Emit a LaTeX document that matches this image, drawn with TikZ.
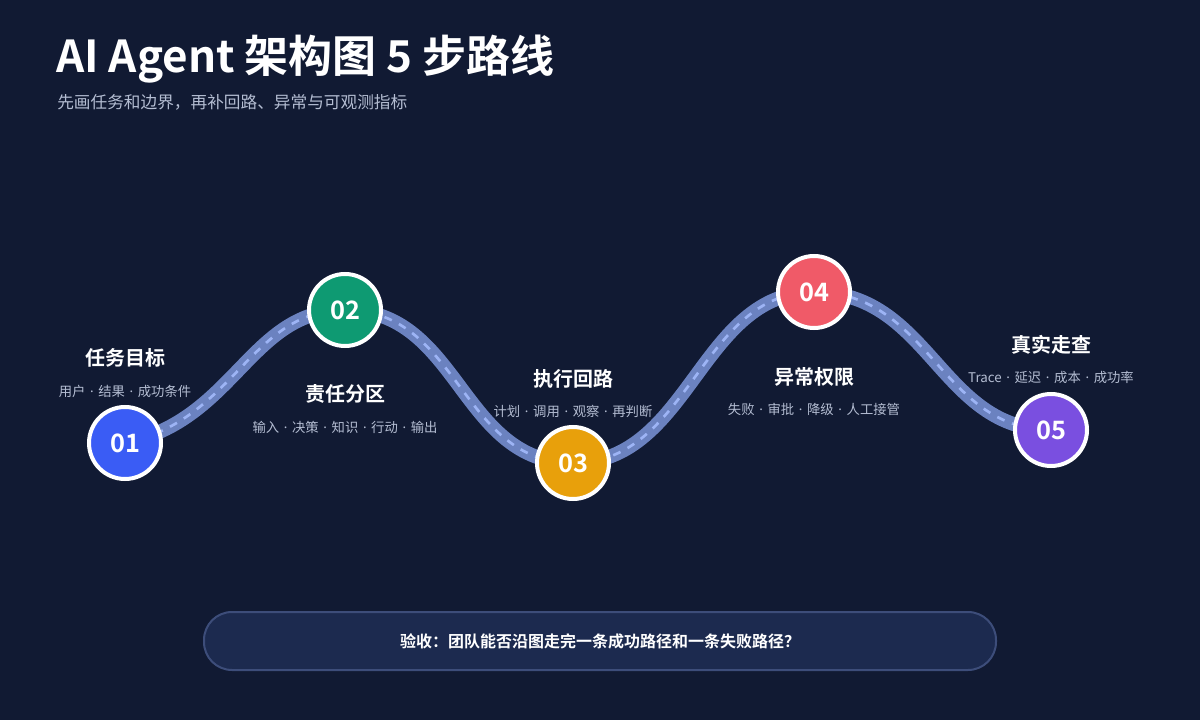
\documentclass[tikz,border=0pt]{standalone}
\usepackage{fontspec}
\setmainfont{Noto Sans CJK SC}
\newfontfamily\cjkb{Noto Sans CJK SC Bold}
\newfontfamily\latin{Noto Sans}
\newcommand\md{\hspace{3.5pt}{\latin ·}\hspace{3.5pt}}
\definecolor{bg}{HTML}{111A33}
\definecolor{road}{HTML}{6B82C0}
\definecolor{dashc}{HTML}{9DB4F5}
\definecolor{subc}{HTML}{B4BDD2}
\definecolor{cA}{HTML}{3A5CF5}
\definecolor{cB}{HTML}{0E9A72}
\definecolor{cC}{HTML}{E8A00B}
\definecolor{cD}{HTML}{F05A68}
\definecolor{cE}{HTML}{7A4FE0}
\definecolor{boxf}{HTML}{1C2A4F}
\definecolor{boxd}{HTML}{3D4D7A}
\begin{document}
\begin{tikzpicture}[x=0.75pt,y=-0.75pt,
  stepnode/.style={circle,draw=white,line width=3pt,minimum size=54pt,inner sep=0pt,text=white,font=\cjkb\fontsize{19}{22}\selectfont},
  ttl/.style={text=white,font=\cjkb\fontsize{15}{18}\selectfont},
  sub/.style={text=subc,font=\fontsize{10}{12}\selectfont}]
\fill[bg] (0,0) rectangle (1200,720);
\useasboundingbox (0,0) rectangle (1200,720);
\node[anchor=base west,text=white,font=\cjkb\fontsize{33}{38}\selectfont,inner sep=0] (title) at (56,73) {AI Agent 架构图 5 步路线};
\node[anchor=base west,text=subc,font=\fontsize{12.5}{15}\selectfont,inner sep=0] (stitle) at (57,109) {先画任务和边界，再补回路、异常与可观测指标};
\coordinate (p1) at (125,443);
\coordinate (p2) at (345,310);
\coordinate (p3) at (573,463);
\coordinate (p4) at (814,292);
\coordinate (p5) at (1051,430);
\def\roadpath{(p1) .. controls (235,420) and (250,310) .. (p2) .. controls (460,310) and (460,463) .. (p3) .. controls (690,463) and (700,292) .. (p4) .. controls (930,292) and (940,430) .. (p5)}
\draw[road,line width=10.5pt] \roadpath;
\draw[dashc,line width=2pt,dash pattern=on 6pt off 6pt] \roadpath;
\node[stepnode,fill=cA] (n1) at (p1) {01};
\node[stepnode,fill=cB] (n2) at (p2) {02};
\node[stepnode,fill=cC] (n3) at (p3) {03};
\node[stepnode,fill=cD] (n4) at (p4) {04};
\node[stepnode,fill=cE] (n5) at (p5) {05};
\node[ttl] (t1) at (125,358) {任务目标};
\node[sub] (s1) at (125,391) {用户\md 结果\md 成功条件};
\node[ttl] (t2) at (345,394) {责任分区};
\node[sub] (s2) at (345,427) {输入\md 决策\md 知识\md 行动\md 输出};
\node[ttl] (t3) at (573,379) {执行回路};
\node[sub] (s3) at (573,411) {计划\md 调用\md 观察\md 再判断};
\node[ttl] (t4) at (814,377) {异常权限};
\node[sub] (s4) at (814,409) {失败\md 审批\md 降级\md 人工接管};
\node[ttl] (t5) at (1051,345) {真实走查};
\node[sub] (s5) at (1051,377) {Trace\md 延迟\md 成本\md 成功率};
\draw[boxd,fill=boxf,line width=1.5pt,rounded corners=21pt] (204,612) rectangle (996,670);
\node[text=white,font=\cjkb\fontsize{12}{14}\selectfont] (bt) at (600,641) {验收：团队能否沿图走完一条成功路径和一条失败路径？};
\end{tikzpicture}
\end{document}
